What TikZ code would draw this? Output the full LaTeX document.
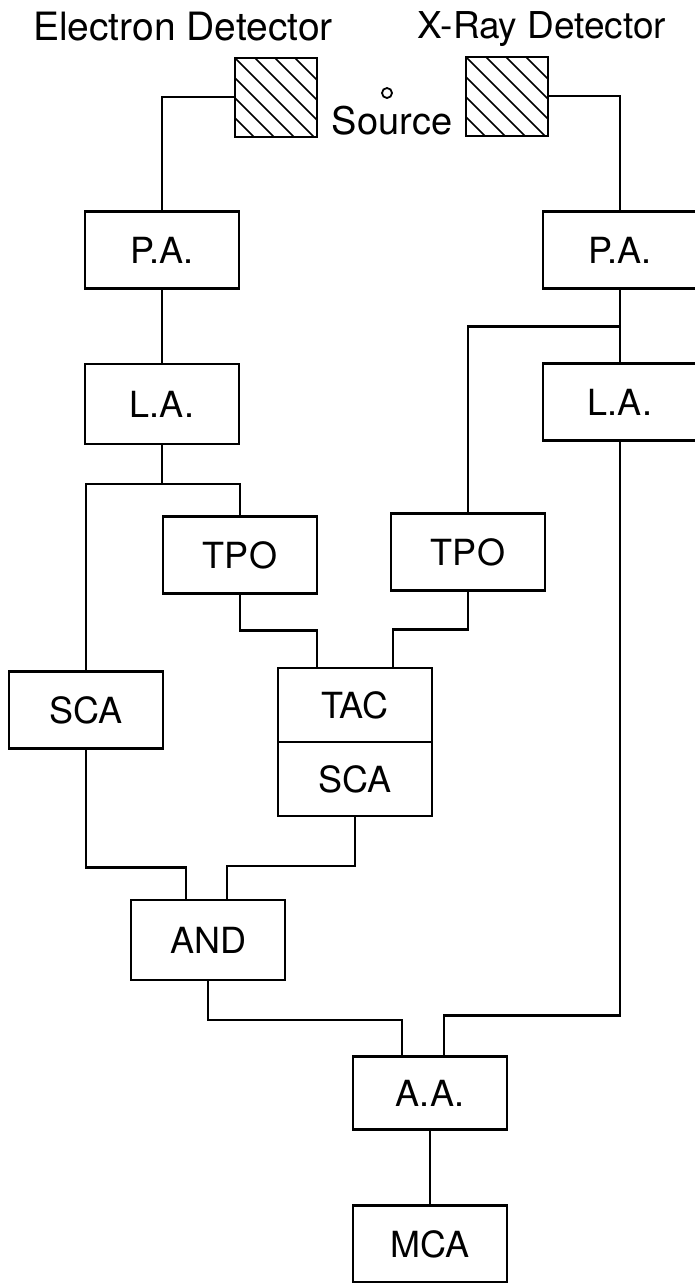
\documentclass[tikz,border=0pt]{standalone}
\usepackage{fontspec}
\setmainfont{TeX Gyre Heros}
\usetikzlibrary{positioning}
\tikzset{
  blk/.style={draw,line width=2.4pt,minimum width=154pt,minimum height=77pt,inner sep=0pt,outer sep=0pt,font=\fontsize{36}{40}\selectfont},
  wire/.style={line width=2.4pt},
  head/.style={anchor=base,inner sep=0pt,font=\fontsize{38}{44}\selectfont},
  srcdot/.style={circle,draw,line width=1.8pt,minimum size=10pt,inner sep=0pt},
  hatchbox/.style={draw,line width=2pt,minimum width=82pt,minimum height=79pt,inner sep=0pt,
    path picture={\foreach \k in {-60,-40,...,60}\draw[line width=1.7pt]([xshift=\k pt]path picture bounding box.north west)--++(90,90);}}
}
\begin{document}
\begin{tikzpicture}[x=1pt,y=-1pt]
  \useasboundingbox (0,0) rectangle (694,1283);
  % detectors and source
  \node[head,font=\fontsize{39}{44}\selectfont] (eTitle) at (183,40) {Electron Detector};
  \node[head,font=\fontsize{37}{44}\selectfont] (xTitle) at (542,38) {X-Ray Detector};
  \node[hatchbox] (detL) at (275.5,97) {};
  \node[hatchbox] (detR) at (506.5,96) {};
  \node[srcdot] (src) at (387,93) {};
  \node[head] (srcLbl) at (392,134) {Source};
  % electronics
  \node[blk] (paL) at (162,250) {P.A.};
  \node[blk] (paR) at (620,250) {P.A.};
  \node[blk,minimum height=80pt] (laL) at (162,404) {L.A.};
  \node[blk] (laR) at (620,402) {L.A.};
  \node[blk] (tpoL) at (240,555) {TPO};
  \node[blk] (tpoR) at (468,552) {TPO};
  \node[blk] (scaL) at (86,710) {SCA};
  \node[blk,minimum height=74pt] (tac) at (355,705) {TAC};
  \node[blk,minimum height=74pt,below=0pt of tac] (scaM) {SCA};
  \node[blk,minimum height=80pt] (andG) at (208,940) {AND};
  \node[blk,minimum height=73pt] (aa) at (430,1093) {A.A.};
  \node[blk] (mca) at (430,1244) {MCA};
  % wiring
  \draw[wire] (detL.west) -| (paL.north);
  \draw[wire] (detR.east) -| (paR.north);
  \draw[wire] (paL) -- (laL);
  \draw[wire] (laL.south) -- ++(0,40) coordinate (jL);
  \draw[wire] (scaL.north) |- (jL) -| (tpoL.north);
  \draw[wire] (paR) -- (laR);
  \draw[wire] (tpoR.north) |- ([yshift=-38pt]paR.south);
  \draw[wire] (tpoL.south) -- ++(0,37) -| ([xshift=-38pt]tac.north);
  \draw[wire] (tpoR.south) -- ++(0,39) -| ([xshift=38pt]tac.north);
  \draw[wire] (scaL.south) -- ++(0,119) -| ([xshift=-22pt]andG.north);
  \draw[wire] (scaM.south) -- ++(0,50) -| ([xshift=19pt]andG.north);
  \draw[wire] (andG.south) -- ++(0,40) -| ([xshift=-28pt]aa.north);
  \draw[wire] (laR.south) -- ++(0,575) -| ([xshift=14pt]aa.north);
  \draw[wire] (aa) -- (mca);
\end{tikzpicture}
\end{document}
